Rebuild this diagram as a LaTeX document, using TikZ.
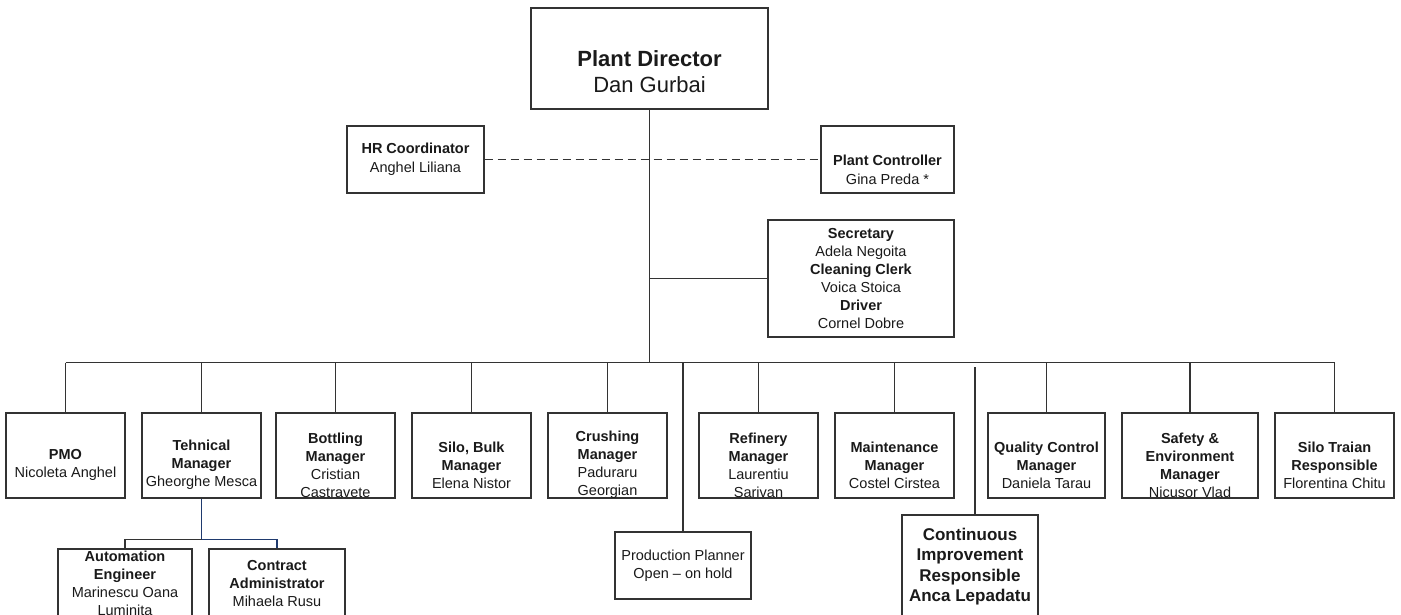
\documentclass[tikz,border=0pt]{standalone}
\usepackage{fontspec}
\setmainfont{Liberation Sans}
\definecolor{linec}{HTML}{333333}
\definecolor{navyline}{HTML}{1F3A6E}
\definecolor{inkc}{HTML}{1A1A1A}
\tikzset{
  cardbox/.style={draw=linec, line width=1.2pt, fill=white, inner sep=0pt},
  cardtext/.style={align=center, inner sep=0pt, text=inkc},
  wire/.style={draw=linec, line width=1.2pt},
  navywire/.style={draw=navyline, line width=1.2pt},
  dotted link/.style={draw=linec, line width=1.2pt, dash pattern=on 8pt off 5pt},
  normalsize/.style={font=\fontsize{14.5}{18}\selectfont},
  toptext/.style={font=\fontsize{22}{26}\selectfont},
  hrtext/.style={font=\fontsize{14.5}{19}\selectfont},
  citext/.style={font=\fontsize{17}{20.5}\selectfont\bfseries},
}
% \orgcard{name}{cx}{cy}{width}{height}{text cy}{text style}{text}
\newcommand\orgcard[8]{%
  \node[cardbox, minimum width=#4, minimum height=#5] (#1) at (#2,#3) {};
  \begin{scope}
    \clip ([shift={(0.6,-0.6)}]#1.north west) rectangle ([shift={(-0.6,0.6)}]#1.south east);
    \node[cardtext, #7] (#1-text) at (#2,#6) {#8};
  \end{scope}%
}
\begin{document}
\begin{tikzpicture}[x=1pt, y=-1pt]
\useasboundingbox[fill=white] (0,0) rectangle (1401,614);

% top management
\orgcard{dir}{649.5}{58.5}{237pt}{101pt}{72}{toptext}{\textbf{Plant Director}\\Dan Gurbai}
\orgcard{hr}{415.5}{159.5}{137pt}{67pt}{159.5}{hrtext}{\textbf{HR Coordinator}\\Anghel Liliana}
\orgcard{pc}{887.5}{159.5}{133pt}{67pt}{169.5}{hrtext}{\textbf{Plant Controller}\\Gina Preda *}
\orgcard{sec}{861}{278.5}{186pt}{117pt}{278.5}{normalsize}{\textbf{Secretary}\\Adela Negoita\\\textbf{Cleaning Clerk}\\Voica Stoica\\\textbf{Driver}\\Cornel Dobre}

% department managers
\orgcard{pmo}{65.5}{455.5}{119pt}{85pt}{465}{normalsize}{\textbf{PMO}\\Nicoleta Anghel}
\orgcard{tech}{201.5}{455.5}{119pt}{85pt}{465}{normalsize}{\textbf{Tehnical}\\\textbf{Manager}\\Gheorghe Mesca}
\orgcard{bott}{335.5}{455.5}{119pt}{85pt}{465}{normalsize}{\textbf{Bottling}\\\textbf{Manager}\\Cristian\\Castravete}
\orgcard{silob}{471.5}{455.5}{119pt}{85pt}{465}{normalsize}{\textbf{Silo, Bulk}\\\textbf{Manager}\\Elena Nistor}
\orgcard{crush}{607.5}{455.5}{119pt}{85pt}{465}{normalsize}{\textbf{Crushing}\\\textbf{Manager}\\Paduraru\\Georgian}
\orgcard{refin}{758.5}{455.5}{119pt}{85pt}{465}{normalsize}{\textbf{Refinery}\\\textbf{Manager}\\Laurentiu\\Sarivan}
\orgcard{maint}{894.5}{455.5}{119pt}{85pt}{465}{normalsize}{\textbf{Maintenance}\\\textbf{Manager}\\Costel Cirstea}
\orgcard{qc}{1046.5}{455.5}{117pt}{85pt}{465}{normalsize}{\textbf{Quality Control}\\\textbf{Manager}\\Daniela Tarau}
\orgcard{safety}{1190}{455.5}{136pt}{85pt}{465}{normalsize}{\textbf{Safety \&}\\\textbf{Environment}\\\textbf{Manager}\\Nicusor Vlad}
\orgcard{silot}{1334.5}{455.5}{119pt}{85pt}{465}{normalsize}{\textbf{Silo Traian}\\\textbf{Responsible}\\Florentina Chitu}

% lower level
\orgcard{plan}{683}{565.5}{136pt}{67pt}{566}{normalsize}{Production Planner\\Open -- on hold}
\orgcard{cip}{970}{570}{136pt}{110pt}{566.5}{citext}{Continuous\\Improvement\\Responsible\\Anca Lepadatu}
\orgcard{auto}{125}{594.5}{134pt}{91pt}{583}{normalsize}{\textbf{Automation}\\\textbf{Engineer}\\Marinescu Oana\\Luminita}
\orgcard{contr}{277}{594.5}{136pt}{91pt}{583}{normalsize}{\textbf{Contract}\\\textbf{Administrator}\\Mihaela Rusu}

% connectors
\path[wire] (dir.south) -- ++(0,253) coordinate (busC);
\path[dotted link] (hr.east) -- (pc.west);
\path[wire] (sec.west) -- (sec.west -| dir.south);
\path[wire] (pmo.north |- busC) -- (silot.north |- busC);
\foreach \n in {pmo,tech,bott,silob,crush,refin,maint,qc,safety,silot}
  \path[wire] (\n.north |- busC) -- (\n.north);
\path[wire] (plan.north |- busC) -- (plan.north);
\coordinate (ciTop) at (975,367);
\path[wire] (ciTop) -- (ciTop |- cip.north);

% technical department
\path[navywire] (tech.south) -- ++(0,41) coordinate (techJ);
\path[wire] (techJ) -- (techJ -| auto.north) -- (auto.north);
\path[navywire] (techJ) -- (techJ -| contr.north) -- (contr.north);
\end{tikzpicture}
\end{document}
